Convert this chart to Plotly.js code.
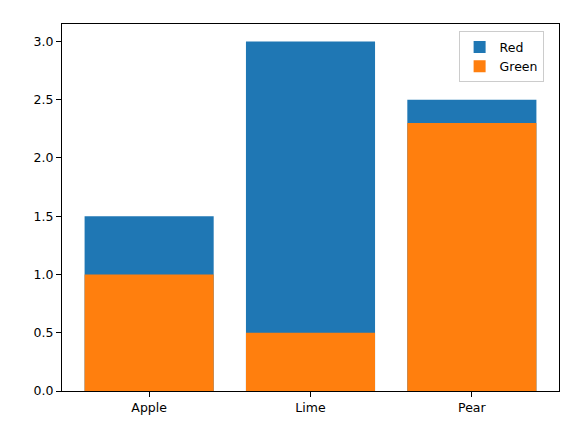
<!DOCTYPE html>
<html>
<head>
<meta charset="utf-8">
<script src="https://cdn.plot.ly/plotly-3.0.1.min.js"></script>
<style>html,body{margin:0;padding:0;background:#fff;}#chart{width:588px;height:433px;}</style>
</head>
<body>
<div id="chart"></div>
<script>
const categories = ["Apple", "Lime", "Pear"];
const redValues = [1.5, 3.0, 2.5];
const greenValues = [1.0, 0.5, 2.3];
const yTicks = [0, 0.5, 1.0, 1.5, 2.0, 2.5, 3.0];
const yTickLabels = ["0.0", "0.5", "1.0", "1.5", "2.0", "2.5", "3.0"];

const font = {family: "DejaVu Sans, sans-serif", size: 12.5, color: "#000"};

const data = [
  {type: "bar", x: categories, y: redValues, name: "Red", width: 0.8,
   marker: {color: "#1f77b4", line: {width: 0}}},
  {type: "bar", x: categories, y: greenValues, name: "Green", width: 0.8,
   marker: {color: "#ff7f0e", line: {width: 0}}}
];

const layout = {
  width: 588, height: 433,
  margin: {l: 62, r: 29, t: 24, b: 42},
  paper_bgcolor: "#fff", plot_bgcolor: "#fff",
  barmode: "overlay",
  font: font,
  showlegend: true,
  legend: {
    x: 0.798, y: 0.98, xanchor: "left", yanchor: "top",
    bgcolor: "rgba(255,255,255,0.8)", bordercolor: "#cccccc", borderwidth: 1,
    font: font, traceorder: "normal", itemwidth: 30
  },
  xaxis: {
    type: "category", range: [-0.54, 2.54],
    showgrid: false, zeroline: false,
    showline: true, linecolor: "#000", linewidth: 1, mirror: true,
    ticks: "outside", ticklen: 5, tickwidth: 1, tickcolor: "#000",
    tickfont: font
  },
  yaxis: {
    range: [0, 3.15],
    tickvals: yTicks, ticktext: yTickLabels,
    showgrid: false, zeroline: false,
    showline: true, linecolor: "#000", linewidth: 1, mirror: true,
    ticks: "outside", ticklen: 5, tickwidth: 1, tickcolor: "#000",
    tickfont: font
  }
};

Plotly.newPlot("chart", data, layout, {staticPlot: true, displayModeBar: false});
</script>
</body>
</html>
